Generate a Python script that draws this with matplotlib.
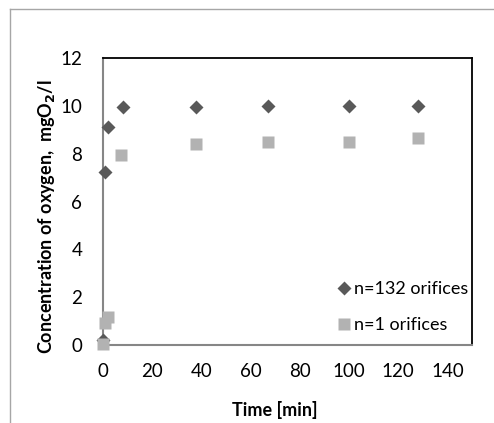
import matplotlib.pyplot as plt
from matplotlib.lines import Line2D

plt.rcParams['font.family'] = ['Lato', 'DejaVu Sans']

# data
t_132 = [0, 1, 2, 8, 38, 67, 100, 128]
c_132 = [0.2, 7.25, 9.1, 9.95, 9.95, 10.0, 10.0, 10.0]
t_1 = [0, 1, 2, 7.5, 38, 67, 100, 128]
c_1 = [0.05, 0.9, 1.15, 7.95, 8.4, 8.5, 8.5, 8.65]
x_ticks = [0, 20, 40, 60, 80, 100, 120, 140]
y_ticks = [0, 2, 4, 6, 8, 10, 12]

fig = plt.figure(figsize=(4.94, 4.23), dpi=100)

# outer chart frame (clipped right/bottom like the source)
fig.add_artist(Line2D([9.5/494, 9.5/494], [0, 1 - 9.5/423], color='#a6a6a6', lw=1, transform=fig.transFigure))
fig.add_artist(Line2D([9.5/494, 1], [1 - 9.5/423, 1 - 9.5/423], color='#a6a6a6', lw=1, transform=fig.transFigure))

ax = fig.add_axes([103/494, 1 - 345/423, (472 - 103)/494, (345 - 58)/423])

ax.plot(t_132, c_132, 'D', color='#595959', ms=7, mec='none', label='n=132 orifices',
        zorder=3, clip_on=False)
ax.plot(t_1, c_1, 's', color='#b2b2b2', ms=9, mec='none', label='n=1 orifices',
        zorder=4, clip_on=False)

ax.set_xlim(0, 150)
ax.set_ylim(0, 12)
ax.set_xticks(x_ticks)
ax.set_yticks(y_ticks)
ax.tick_params(length=0, labelsize=13.5, colors='black')
ax.tick_params(axis='y', pad=15)
ax.tick_params(axis='x', pad=13)

for s in ['top', 'right']:
    ax.spines[s].set_color('black')
    ax.spines[s].set_linewidth(1.3)
for s in ['left', 'bottom']:
    ax.spines[s].set_color('#868686')
    ax.spines[s].set_linewidth(1.5)

ax.set_xlabel('Time [min]', fontsize=13, fontweight='bold', va='center')
ax.xaxis.set_label_coords(0.466, -0.226)
ax.set_ylabel('Concentration of oxygen,  mgO$_\\mathbf{2}$/l', fontsize=13, fontweight='bold', va='center')
ax.yaxis.set_label_coords(-0.152, 0.446)

ax.legend(loc='lower right', frameon=False, fontsize=13,
          handletextpad=0.05, labelspacing=1.1, handlelength=1.0,
          bbox_to_anchor=(1.035, -0.015))

fig.savefig('out.png', dpi=100)
